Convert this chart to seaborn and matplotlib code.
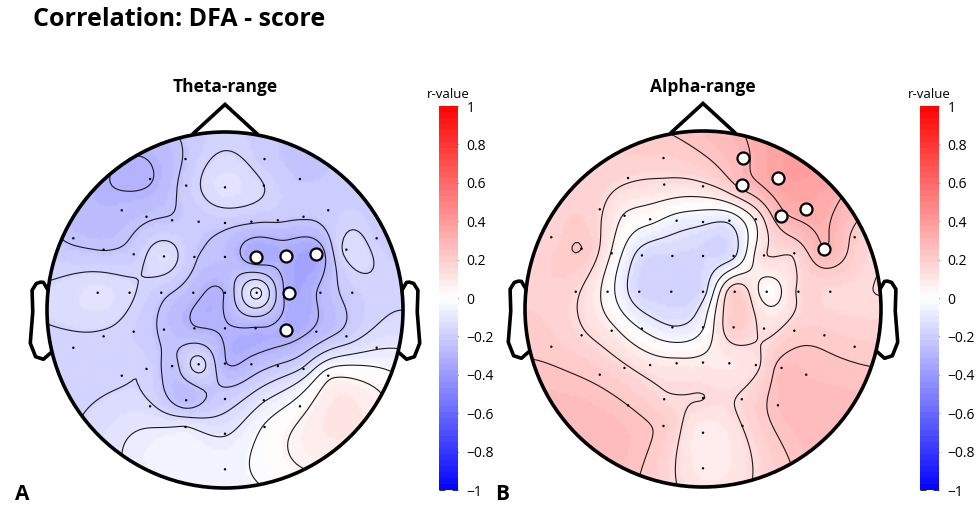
import numpy as np
import matplotlib
matplotlib.use("Agg")
import matplotlib.pyplot as plt
import seaborn as sns
import pandas as pd
from matplotlib.colors import ListedColormap, Normalize
from matplotlib.patches import Circle
from matplotlib.cm import ScalarMappable

# ---------------- data ----------------
# electrode layout (head radius = 1), row by row, left to right
elec_x = np.array([
    -0.222, 0.222,
    -0.421, -0.218, 0.0, 0.218, 0.421,
    -0.580, -0.441, -0.297, -0.148, 0.0, 0.148, 0.297, 0.441, 0.580,
    -0.852, -0.682, -0.513, -0.343, -0.172, 0.0, 0.172, 0.343, 0.513, 0.682, 0.852,
    -0.715, -0.536, -0.358, -0.178, 0.0, 0.178, 0.358, 0.536, 0.715,
    -0.852, -0.682, -0.513, -0.343, -0.172, 0.0, 0.172, 0.343, 0.513, 0.682, 0.852,
    -0.580, -0.441, -0.297, -0.148, 0.0, 0.148, 0.297, 0.441, 0.580,
    -0.421, -0.218, 0.0, 0.218, 0.421,
    -0.222, 0.0, 0.222,
    0.0])
elec_y = np.array([
    0.848, 0.848,
    0.736, 0.699, 0.689, 0.699, 0.736,
    0.560, 0.524, 0.504, 0.496, 0.489, 0.496, 0.504, 0.524, 0.560,
    0.403, 0.339, 0.313, 0.301, 0.298, 0.298, 0.298, 0.301, 0.313, 0.339, 0.403,
    0.097, 0.097, 0.097, 0.097, 0.097, 0.097, 0.097, 0.097, 0.097,
    -0.212, -0.148, -0.122, -0.110, -0.103, -0.103, -0.103, -0.110, -0.122, -0.148, -0.212,
    -0.369, -0.331, -0.315, -0.305, -0.301, -0.305, -0.315, -0.331, -0.369,
    -0.541, -0.507, -0.500, -0.507, -0.541,
    -0.657, -0.695, -0.657,
    -0.895])

theta_r = np.array([
    -0.22, -0.20,
    -0.30, -0.20, -0.11, -0.16, -0.22,
    -0.27, -0.24, -0.22, -0.21, -0.21, -0.22, -0.22, -0.22, -0.20,
    -0.24, -0.23, -0.20, -0.12, -0.22, -0.25, -0.34, -0.32, -0.35, -0.14, -0.19,
    -0.11, -0.15, -0.21, -0.27, -0.29, -0.07, -0.33, -0.28, -0.20,
    -0.18, -0.17, -0.19, -0.24, -0.29, -0.30, -0.30, -0.32, -0.28, -0.20, -0.10,
    -0.17, -0.17, -0.25, -0.13, -0.29, -0.27, -0.22, -0.15, 0.02,
    -0.15, -0.27, -0.20, -0.10, 0.01,
    -0.09, -0.10, -0.02,
    -0.05])

alpha_r = np.array([
    0.18, 0.28,
    0.15, 0.12, 0.12, 0.25, 0.36,
    0.15, 0.05, 0.00, -0.06, -0.09, -0.09, 0.07, 0.28, 0.33,
    0.17, 0.22, 0.05, -0.14, -0.16, -0.16, -0.12, 0.13, 0.15, 0.30, 0.20,
    0.15, 0.02, -0.16, -0.17, -0.14, 0.20, 0.01, 0.15, 0.15,
    0.20, 0.15, 0.08, -0.03, -0.10, -0.03, 0.20, 0.12, 0.18, 0.20, 0.20,
    0.20, 0.15, 0.10, 0.08, 0.08, 0.09, 0.12, 0.25, 0.25,
    0.22, 0.15, 0.14, 0.15, 0.25,
    0.20, 0.07, 0.14,
    0.08])

theta_sig = [22, 23, 24, 33, 43]
alpha_sig = [1, 5, 6, 14, 15, 25]

panel_titles = ["Theta-range", "Alpha-range"]
panel_letters = ["A", "B"]
cbar_ticks = [1, 0.8, 0.6, 0.4, 0.2, 0, -0.2, -0.4, -0.6, -0.8, -1]

# ---------------- style ----------------
sns.set_theme(style="white")
plt.rcParams['font.family'] = ['Open Sans', 'DejaVu Sans']
plt.rcParams['text.color'] = 'black'
plt.rcParams['contour.negative_linestyle'] = 'solid'
cmap = ListedColormap(sns.color_palette("bwr", 64))
norm = Normalize(-1, 1)


def biharmonic(x, y, v, gx, gy):
    d = np.hypot(x[:, None] - x[None, :], y[:, None] - y[None, :])
    with np.errstate(divide='ignore', invalid='ignore'):
        G = np.where(d > 0, d ** 2 * (np.log(d) - 1), 0.0)
    w = np.linalg.solve(G, v)
    dg = np.hypot(gx.ravel()[:, None] - x[None, :], gy.ravel()[:, None] - y[None, :])
    with np.errstate(divide='ignore', invalid='ignore'):
        Gg = np.where(dg > 0, dg ** 2 * (np.log(dg) - 1), 0.0)
    return (Gg @ w).reshape(gx.shape)


fig = plt.figure(figsize=(9.76, 5.07), dpi=100)
W, H = 976, 507
R = 178.0
centers = [(225, 310), (703, 309)]
cbar_x = [439, 920]

ear_x = np.array([.497, .510, .518, .5299, .5419, .54, .547, .532, .510, .489]) * 2
ear_y = np.array([.0555, .0775, .0783, .0746, .0555, -.0055, -.0932, -.1313, -.1384, -.1199]) * 2

for k, vals in enumerate([theta_r, alpha_r]):
    cx, cy = centers[k]
    xl, xr, yb, yt = -1.13, 1.13, -1.03, 1.18
    ax = fig.add_axes([(cx + xl * R) / W, (H - (cy - yb * R)) / H,
                       (xr - xl) * R / W, (yt - yb) * R / H])
    ax.set_xlim(xl, xr)
    ax.set_ylim(yb, yt)
    ax.set_aspect('equal')
    ax.axis('off')

    g = np.linspace(-1.0, 1.0, 121)
    gx, gy = np.meshgrid(g, g)
    z = biharmonic(elec_x, elec_y, vals, gx, gy)
    inside = np.hypot(gx, gy) <= 1.0
    zm = np.ma.masked_where(~inside, z)

    clip = Circle((0, 0), 1.0, transform=ax.transData, facecolor='none', edgecolor='none')
    ax.add_patch(clip)
    im = ax.imshow(z, extent=(-1, 1, -1, 1), origin='lower', cmap=cmap, norm=norm,
                   interpolation='bilinear', zorder=1)
    im.set_clip_path(clip)
    zmin, zmax = zm.min(), zm.max()
    levels = np.linspace(zmin, zmax, 8)[1:-1]
    cs = ax.contour(gx, gy, z, levels=levels, colors='k', linewidths=0.8,
                    linestyles='solid', zorder=2)
    cs.set_clip_path(clip)

    # head outline, nose, ears
    ax.add_patch(Circle((0, 0), 1.0, facecolor='none', edgecolor='black', lw=2.6, zorder=5))
    ax.plot([-0.18, 0.0, 0.18], [0.99, 1.155, 0.99], color='black', lw=2.6,
            solid_joinstyle='miter', zorder=5)
    ax.plot(ear_x, ear_y, color='black', lw=2.6, zorder=5)
    ax.plot(-ear_x, ear_y, color='black', lw=2.6, zorder=5)

    df = pd.DataFrame({'x': elec_x, 'y': elec_y, 'r': vals})
    sns.scatterplot(data=df, x='x', y='y', ax=ax, s=3, color='black',
                    edgecolor='none', legend=False, zorder=6)
    sig = theta_sig if k == 0 else alpha_sig
    sns.scatterplot(data=df.iloc[sig], x='x', y='y', ax=ax, s=75, color='white',
                    edgecolor='black', linewidth=1.6, legend=False, zorder=7)
    ax.set_xlabel('')
    ax.set_ylabel('')

    fig.text(cx / W, 1 - 87 / H, panel_titles[k], ha='center', va='center',
             fontsize=12.5, fontweight='bold', color='black')

    # colorbar
    cax = fig.add_axes([cbar_x[k] / W, (H - 490) / H, 19 / W, 384 / H])
    cb = fig.colorbar(ScalarMappable(norm=norm, cmap=cmap), cax=cax)
    cb.outline.set_visible(False)
    cb.set_ticks(cbar_ticks)
    cb.set_ticklabels([('\u2212' if t < 0 else '') + ('%g' % abs(t)) for t in cbar_ticks])
    cax.tick_params(axis='y', direction='in', length=4, width=0.8, color='#333333',
                    right=True, left=True, labelsize=10, pad=6, labelcolor='black')
    cax.set_title('r-value', fontsize=9.5, pad=6, color='black')

    fig.text([22, 502][k] / W, 1 - 495 / H, panel_letters[k], ha='center', va='center',
             fontsize=15, fontweight='bold', color='black')

fig.text(33 / W, 1 - 20 / H, 'Correlation: DFA - score', ha='left', va='center',
         fontsize=18, fontweight='bold', color='black')

fig.savefig('out.png', dpi=100)
